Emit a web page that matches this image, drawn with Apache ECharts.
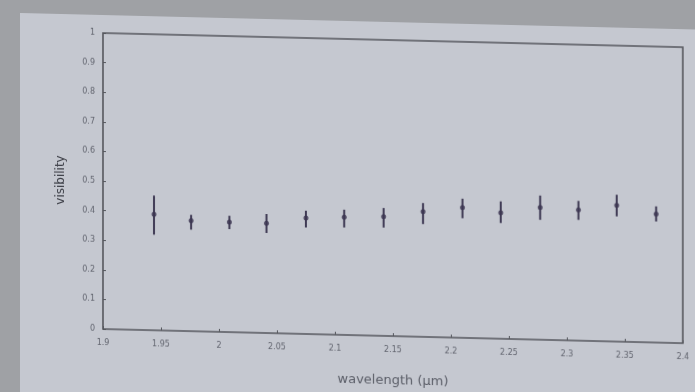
<!DOCTYPE html>
<html>
<head>
<meta charset="utf-8">
<script src="https://cdn.jsdelivr.net/npm/echarts@6/dist/echarts.min.js"></script>
<style>
  html, body { margin: 0; padding: 0; width: 695px; height: 392px; overflow: hidden; background: #9fa1a5; }
  #screen { position: absolute; left: 20px; top: 13px; width: 700px; height: 400px;
            background: #c5c8d0; transform: skewY(1.4deg); transform-origin: 0 0; filter: blur(0.75px); }
  #chart { width: 700px; height: 400px; }
</style>
</head>
<body>
<div id="screen"><div id="chart"></div></div>
<script>
// Data (photo of a screen)
const wavelength = [1.944, 1.976, 2.009, 2.041, 2.075, 2.108, 2.142, 2.176, 2.210, 2.243, 2.277, 2.310, 2.343, 2.377];
const visibility = [0.392, 0.373, 0.372, 0.371, 0.392, 0.398, 0.403, 0.423, 0.440, 0.426, 0.447, 0.442, 0.460, 0.434];
const visUpper   = [0.455, 0.393, 0.393, 0.402, 0.416, 0.423, 0.432, 0.452, 0.470, 0.464, 0.487, 0.472, 0.496, 0.460];
const visLower   = [0.323, 0.343, 0.348, 0.338, 0.360, 0.363, 0.366, 0.381, 0.404, 0.391, 0.405, 0.408, 0.423, 0.409];
const xTickLabels = ['1.9', '1.95', '2', '2.05', '2.1', '2.15', '2.2', '2.25', '2.3', '2.35', '2.4'];
const yTickLabels = ['0', '0.1', '0.2', '0.3', '0.4', '0.5', '0.6', '0.7', '0.8', '0.9', '1'];
const xName = 'wavelength (\u00b5m)';
const yName = 'visibility';

const chart = echarts.init(document.getElementById('chart'), null, { renderer: 'canvas' });

const pointData = wavelength.map((w, i) => [w, visibility[i]]);
const errData = wavelength.map((w, i) => [w, visLower[i], visUpper[i]]);

const labelStyle = { color: '#62656f', fontSize: 8, fontFamily: 'DejaVu Sans' };

chart.setOption({
  animation: false,
  backgroundColor: 'transparent',
  grid: { left: 83, top: 18, width: 580, height: 296, show: true, borderColor: '#55575d', borderWidth: 1.6, backgroundColor: 'transparent' },
  xAxis: {
    type: 'value', min: 1.9, max: 2.4, interval: 0.05,
    name: xName, nameLocation: 'middle', nameGap: 38,
    nameTextStyle: { color: '#5a5d67', fontSize: 13, fontFamily: 'DejaVu Sans' },
    axisLine: { show: false },
    axisTick: { show: true, inside: true, length: 3, lineStyle: { color: '#55575d' } },
    splitLine: { show: false },
    axisLabel: { ...labelStyle, margin: 10,
      formatter: v => xTickLabels[Math.round((v - 1.9) / 0.05)] ?? '' }
  },
  yAxis: {
    type: 'value', min: 0, max: 1, interval: 0.1,
    name: yName, nameLocation: 'middle', nameGap: 36, nameRotate: 90,
    nameTextStyle: { color: '#3f4149', fontSize: 12, fontFamily: 'DejaVu Sans' },
    axisLine: { show: false },
    axisTick: { show: true, inside: true, length: 3, lineStyle: { color: '#55575d' } },
    splitLine: { show: false },
    axisLabel: { ...labelStyle, margin: 8,
      formatter: v => yTickLabels[Math.round(v / 0.1)] ?? '' }
  },
  series: [
    {
      type: 'custom',
      data: errData,
      encode: { x: 0, y: [1, 2] },
      renderItem: function (params, api) {
        const x = api.value(0);
        const lo = api.coord([x, api.value(1)]);
        const hi = api.coord([x, api.value(2)]);
        return {
          type: 'line',
          shape: { x1: lo[0], y1: lo[1], x2: hi[0], y2: hi[1] },
          style: { stroke: '#3f3a54', lineWidth: 2 }
        };
      },
      z: 2
    },
    {
      type: 'scatter',
      data: pointData,
      symbol: 'circle',
      symbolSize: 5,
      itemStyle: { color: '#3b3450' },
      z: 3
    }
  ]
});
</script>
</body>
</html>
